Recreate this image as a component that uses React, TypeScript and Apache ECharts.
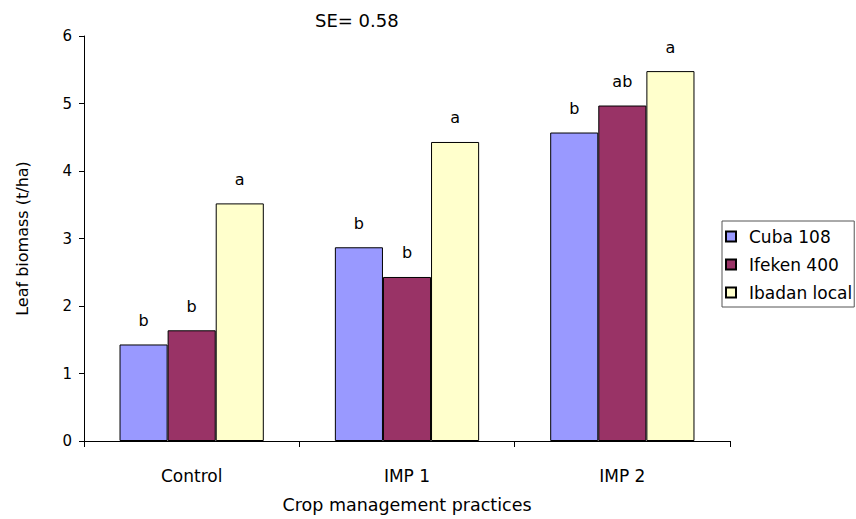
import React, { useEffect, useRef } from "react";
import * as echarts from "echarts";

const categories = ["Control", "IMP 1", "IMP 2"];
const seriesNames = ["Cuba 108", "Ifeken 400", "Ibadan local"];
const cuba108 = [1.43, 2.87, 4.57];
const ifeken400 = [1.64, 2.43, 4.97];
const ibadanLocal = [3.52, 4.43, 5.48];
const cubaLetters = ["b", "b", "b"];
const ifekenLetters = ["b", "b", "ab"];
const ibadanLetters = ["a", "a", "a"];
const yTicks = [0, 1, 2, 3, 4, 5, 6];
const seText = "SE= 0.58";

const FONT = "DejaVu Sans";

export default function App() {
  const ref = useRef<HTMLDivElement>(null);
  useEffect(() => {
    if (!ref.current) return;
    const chart = echarts.init(ref.current, undefined, { renderer: "svg" });
    const colors = ["#9999FF", "#993366", "#FFFFCC"];
    const values = [cuba108, ifeken400, ibadanLocal];
    const letters = [cubaLetters, ifekenLetters, ibadanLetters];
    chart.setOption({
      animation: false,
      backgroundColor: "#ffffff",
      textStyle: { fontFamily: FONT, color: "#000" },
      grid: { left: 84, width: 646, top: 36, height: 410, containLabel: false },
      graphic: [
        {
          type: "text",
          left: 315,
          top: 11,
          style: { text: seText, font: `18px "${FONT}"`, fill: "#000" },
        },
      ],
      legend: {
        orient: "vertical",
        left: 722,
        top: 221,
        padding: [7, 2, 6, 3],
        itemGap: 11,
        itemWidth: 10,
        itemHeight: 10,
        icon: "rect",
        borderColor: "#555",
        borderWidth: 1,
        borderRadius: 0,
        data: seriesNames,
        textStyle: {
          fontFamily: FONT,
          fontSize: 17,
          color: "#000",
          padding: [0, 0, 0, 8],
        },
      },
      xAxis: {
        type: "category",
        data: categories,
        boundaryGap: true,
        axisLine: { lineStyle: { color: "#000", width: 1 } },
        axisTick: { show: true, inside: false, length: 6, lineStyle: { color: "#000" } },
        axisLabel: { margin: 26, fontFamily: FONT, fontSize: 17, color: "#000" },
        name: "Crop management practices",
        nameLocation: "middle",
        nameGap: 55,
        nameTextStyle: { fontFamily: FONT, fontSize: 17.5, color: "#000" },
        splitLine: { show: false },
      },
      yAxis: {
        type: "value",
        min: yTicks[0],
        max: yTicks[yTicks.length - 1],
        interval: 1,
        axisLine: { show: true, lineStyle: { color: "#000", width: 1 } },
        axisTick: { show: true, inside: false, length: 5, lineStyle: { color: "#000" } },
        axisLabel: { margin: 12, fontFamily: FONT, fontSize: 15, color: "#000" },
        splitLine: { show: false },
        name: "Leaf biomass (t/ha)",
        nameLocation: "middle",
        nameGap: 54,
        nameRotate: 90,
        nameTextStyle: { fontFamily: FONT, fontSize: 16, color: "#000" },
      },
      series: seriesNames.map((name, i) => ({
        name,
        type: "bar",
        data: values[i],
        barGap: "0%",
        barCategoryGap: "33%",
        itemStyle: { color: colors[i], borderColor: "#000", borderWidth: 1 },
        label: {
          show: true,
          position: "top",
          distance: 16,
          fontFamily: FONT,
          fontSize: 16,
          color: "#000",
          formatter: (p: any) => letters[i][p.dataIndex],
        },
      })),
    });
    return () => chart.dispose();
  }, []);
  return (
    <div
      ref={ref}
      style={{ position: "absolute", left: 0, top: 0, width: 856, height: 519 }}
    />
  );
}
